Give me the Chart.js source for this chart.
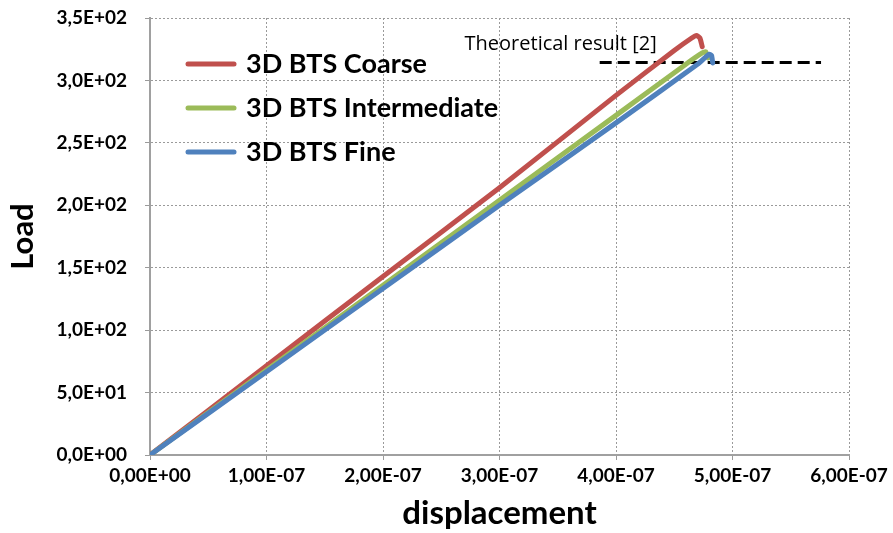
<!DOCTYPE html>
<html>
<head>
<meta charset="utf-8">
<script src="https://cdn.jsdelivr.net/npm/chart.js@4.4.1/dist/chart.umd.min.js"></script>
<style>
  html, body { margin: 0; padding: 0; background: #fff; }
</style>
</head>
<body>
<canvas id="loadChart" width="893" height="533"></canvas>
<script>
const seriesNames = ["3D BTS Coarse", "3D BTS Intermediate", "3D BTS Fine"];
const seriesColors = ["#c0504d", "#9bbb59", "#4f81bd"];

const coarseDisp = [0, 1e-7, 2e-7, 3e-7, 4e-7, 4.5e-7, 4.65e-7, 4.69e-7, 4.72e-7, 4.74e-7];
const coarseLoad = [0, 71.5, 143, 214, 288, 324, 334, 336, 334, 327];

const interDisp = [0, 1e-7, 2e-7, 3e-7, 4e-7, 4.6e-7, 4.74e-7, 4.77e-7, 4.79e-7];
const interLoad = [0, 68, 136, 204, 272, 313, 322, 323, 318];

const fineDisp = [0, 1e-7, 2e-7, 3e-7, 4e-7, 4.7e-7, 4.8e-7, 4.82e-7, 4.83e-7];
const fineLoad = [0, 66.7, 133.4, 200, 266, 313, 321, 320, 314];

const theoryDisp = [3.86e-7, 5.76e-7];
const theoryLoad = [314.4, 314.4];
const theoryLabel = "Theoretical result [2]";
const theoryLabelAt = [2.70e-7, 329];

const xTicks = [0, 1e-7, 2e-7, 3e-7, 4e-7, 5e-7, 6e-7];
const yTicks = [0, 50, 100, 150, 200, 250, 300, 350];

function sci(v, d) {
    const [m, e] = v.toExponential(d).split("e");
    const n = parseInt(e, 10);
    return m.replace(".", ",") + "E" + (n < 0 ? "-" : "+") + String(Math.abs(n)).padStart(2, "0");
}

const toPoints = (xs, ys) => xs.map((x, i) => ({ x: x, y: ys[i] }));

const curves = [[coarseDisp, coarseLoad], [interDisp, interLoad], [fineDisp, fineLoad]];
const datasets = curves.map(([xs, ys], i) => ({
    label: seriesNames[i],
    data: toPoints(xs, ys),
    borderColor: seriesColors[i],
    borderWidth: 5,
    borderCapStyle: "round",
    borderJoinStyle: "round",
    pointRadius: 0,
    showLine: true,
    tension: 0.2
}));
// draw fine first so coarse sits on top like the original
datasets.reverse();
datasets.push({
    label: theoryLabel,
    data: toPoints(theoryDisp, theoryLoad),
    borderColor: "#000",
    borderWidth: 3,
    borderDash: [12, 6],
    pointRadius: 0,
    showLine: true
});

const overlay = {
    id: "overlay",
    afterDraw(chart) {
        const ctx = chart.ctx;
        const area = chart.chartArea;
        const xs = chart.scales.x, ys = chart.scales.y;
        ctx.save();
        // legend
        ctx.font = "bold 27px Lato";
        ctx.textBaseline = "middle";
        ctx.lineCap = "round";
        seriesNames.forEach((name, i) => {
            const y = area.top + 46 + i * 44;
            ctx.strokeStyle = seriesColors[i];
            ctx.lineWidth = 5;
            ctx.beginPath();
            ctx.moveTo(area.left + 38, y);
            ctx.lineTo(area.left + 84, y);
            ctx.stroke();
            ctx.fillStyle = "#000";
            ctx.fillText(name, area.left + 96, y);
        });
        // theory label
        ctx.font = "20px 'Open Sans'";
        ctx.fillStyle = "#000";
        ctx.fillText(theoryLabel, xs.getPixelForValue(theoryLabelAt[0]), ys.getPixelForValue(theoryLabelAt[1]));
        ctx.restore();
    }
};

const tickFont = { family: "Lato", weight: "bold", size: 19 };
const gridOpts = { color: "#9a9a9a", lineWidth: 1, drawTicks: true, tickLength: 5, tickColor: "#9a9a9a" };

new Chart(document.getElementById("loadChart"), {
    type: "scatter",
    data: { datasets: datasets },
    options: {
        responsive: false,
        animation: false,
        layout: { padding: { top: 18, right: 44, left: 0, bottom: 0 } },
        plugins: { legend: { display: false }, tooltip: { enabled: false } },
        scales: {
            x: {
                type: "linear",
                min: 0,
                max: 6e-7,
                afterBuildTicks: (s) => { s.ticks = xTicks.map(v => ({ value: v })); },
                afterFit: (s) => { s.height = 78; },
                ticks: { font: tickFont, color: "#000", padding: 4, maxRotation: 0,
                         callback: (v) => sci(v, 2) },
                grid: gridOpts,
                border: { display: true, color: "#a0a0a0", width: 2, dash: [2, 2] },
                title: { display: true, text: "displacement", color: "#000",
                         font: { family: "Lato", weight: "bold", size: 33 }, padding: { top: 0, bottom: 0 } }
            },
            y: {
                type: "linear",
                min: 0,
                max: 350,
                afterBuildTicks: (s) => { s.ticks = yTicks.map(v => ({ value: v })); },
                afterFit: (s) => { s.width = 150; s.paddingTop = 0; s.paddingBottom = 0; },
                ticks: { font: tickFont, color: "#000", padding: 18,
                         callback: (v) => sci(v, 1) },
                grid: gridOpts,
                border: { display: true, color: "#a0a0a0", width: 2, dash: [2, 2] },
                title: { display: true, text: "Load", color: "#000",
                         font: { family: "Lato", weight: "bold", size: 31 }, padding: { top: 4, bottom: 0 } }
            }
        }
    },
    plugins: [overlay]
});
</script>
</body>
</html>
